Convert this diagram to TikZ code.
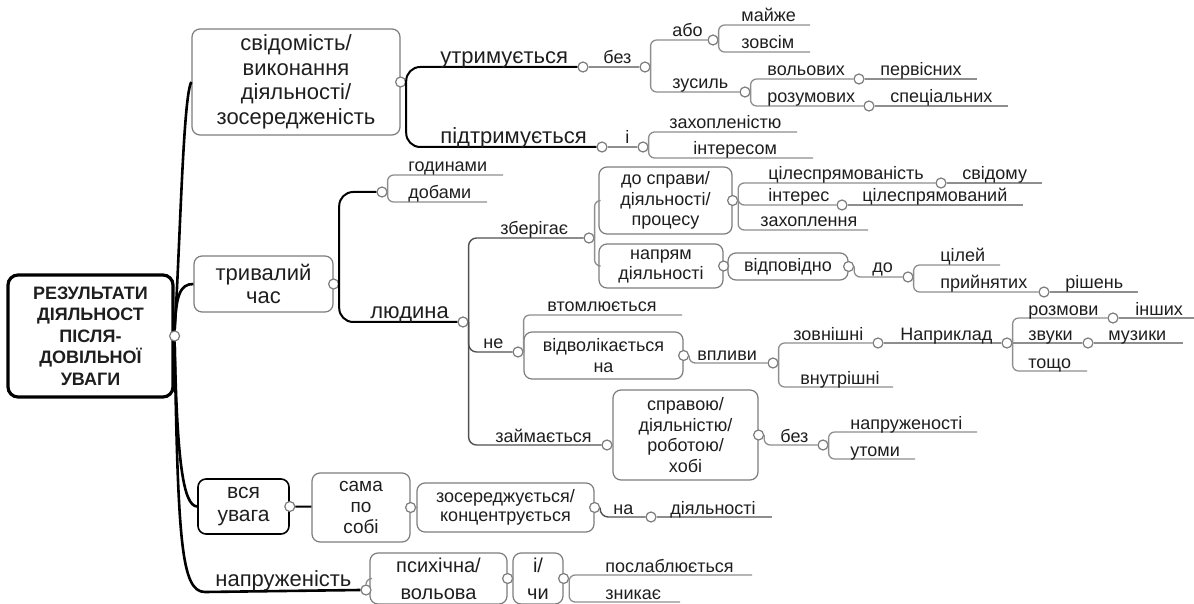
\documentclass[tikz,border=0pt]{standalone}
\usepackage{fontspec}
\setmainfont{Liberation Sans}
\definecolor{boxgrey}{HTML}{7C7C7C}
\definecolor{linegrey}{HTML}{8E8E8E}
\definecolor{darkgrey}{HTML}{505050}
\definecolor{txt}{HTML}{1E1E1E}

\begin{document}
\begin{tikzpicture}[x=0.5pt,y=-0.5pt,
	box/.style={draw=boxgrey,line width=0.6pt,rounded corners=4pt,align=center,inner sep=0pt,text=txt},
	bigbox/.style={box,font=\fontsize{11}{12.3}\selectfont},
	smallbox/.style={box,font=\fontsize{9}{10.4}\selectfont},
	rootbox/.style={box,draw=black,line width=1.6pt,rounded corners=5pt,font=\bfseries\fontsize{9}{10.75}\selectfont},
	dot/.style={circle,draw=boxgrey,fill=white,line width=0.6pt,inner sep=0pt,minimum size=5pt},
	lbl/.style={anchor=base west,inner sep=0pt,text=txt,font=\fontsize{9}{10}\selectfont},
	biglbl/.style={lbl,font=\fontsize{11}{12}\selectfont},
	mainline/.style={line width=1.3pt},
	branch/.style={line width=1pt,rounded corners=7pt},
	subline/.style={draw=darkgrey,line width=0.7pt,rounded corners=4pt},
	twig/.style={draw=linegrey,line width=0.65pt,rounded corners=3pt}]
	\useasboundingbox (0,0) rectangle (1194,604);
	% boxes
	\node[rootbox,minimum width=82.5pt,minimum height=61pt] (root) at (90.5,336) {РЕЗУЛЬТАТИ\\ДІЯЛЬНОСТ\\ПІСЛЯ-\\ДОВІЛЬНОЇ\\УВАГИ};
	\node[bigbox,minimum width=104pt,minimum height=53pt] (svid) at (296,82) {свідомість/\\виконання\\діяльності/\\зосередженість};
	\node[bigbox,font=\fontsize{11}{11.5}\selectfont,minimum width=69.5pt,minimum height=28pt] (tryv) at (263.5,284) {тривалий\\час};
	\node[box,draw=black,line width=0.8pt,font=\fontsize{10.5}{11.7}\selectfont,minimum width=45.5pt,minimum height=27.5pt] (vsya) at (243.5,506.5) {вся\\увага};
	\node[smallbox,font=\fontsize{9.5}{10.5}\selectfont,minimum width=49pt,minimum height=34.5pt] (sama) at (361,507.5) {сама\\по\\собі};
	\node[smallbox,font=\fontsize{9}{9.5}\selectfont,minimum width=88.5pt,minimum height=24.5pt] (zos) at (505.5,507.5) {зосереджується/\\концентрується};
	\node[box,font=\fontsize{10}{13.5}\selectfont,minimum width=68.5pt,minimum height=25.5pt] (psy) at (438.5,578.5) {психічна/\\вольова};
	\node[box,font=\fontsize{10}{13.5}\selectfont,minimum width=25pt,minimum height=25.5pt] (ichy) at (538,578.5) {і/\\чи};
	\node[smallbox,minimum width=66.5pt,minimum height=33.5pt] (sprav) at (665.5,200.5) {до справи/\\діяльності/\\процесу};
	\node[smallbox,font=\fontsize{9}{10}\selectfont,minimum width=62pt,minimum height=22pt] (napr) at (661,266) {напрям\\діяльності};
	\node[smallbox,minimum width=60pt,minimum height=13.5pt] (vidp) at (788,266.5) {відповідно};
	\node[smallbox,font=\fontsize{9}{10.8}\selectfont,minimum width=79.5pt,minimum height=23.5pt] (vidv) at (603.5,355.5) {відволікається\\на};
	\node[smallbox,minimum width=72.5pt,minimum height=45pt] (sprh) at (685.5,435) {справою/\\діяльністю/\\роботою/\\хобі};
	% dots
	\node[dot] (c_root) at (root.east) {};
	\foreach \b in {svid,tryv,vsya,sama,zos,psy,ichy,sprav,napr,vidp,vidv,sprh}
		\node[dot] (c_\b) at (\b.east) {};
	\foreach \n/\x/\y in {c_utr/583/67,c_bez/645/67,c_abo/713/40,c_zus/745/92,c_vol/859/79,c_roz/869/106,
		c_pidtr/602/147,c_i/643/147,c_god/382/192,c_lyud/463/322,c_zber/589/238,c_cil/941/183,c_int/842/205,
		c_do/908/277,c_pryin/1044/292,c_ne/518/352,c_vpl/773/363,c_zovn/878/343,c_napryk/1007/343,
		c_rozm/1113/318,c_zvuk/1088/343,c_zaym/607/445,c_bez2/823/445,c_na/651/517,c_napruzh/366/590}
		\node[dot] (\n) at (\x,\y) {};
	% ends of the underlines
	\foreach \n/\x/\y in {e_mayzhe/810/25,e_zovsim/810/52,e_perv/977/79,e_spets/1008/106,e_zakh/797/132,
		e_inter/813/158,e_god/503/175,e_dob/487/202,e_svid/1042/183,e_cilespr/1023/205,e_zakhopl/868/230,
		e_ciley/1000/265,e_rish/1138/292,e_vtom/682/315,e_vnutr/893/387,e_inshykh/1194/318,e_muz/1183/343,
		e_toshcho/1087/371,e_napruzh2/977/432,e_utomy/915/459,e_diyal/772/517,e_poslab/752/575,e_znyk/680/602}
		\coordinate (\n) at (\x,\y);
	% main branches
	\draw[mainline] (c_root.north) .. controls (180,250) and (183,95) .. (svid.west);
	\draw[mainline] (c_root.north) .. controls (176,295) and (180,284) .. (tryv.west);
	\draw[mainline] (c_root.south) .. controls (177,460) and (183,506) .. (vsya.west);
	\draw[mainline] (c_root.south) .. controls (178,540) and (181,592) .. (205,592) -- (c_napruzh.west);
	\foreach \a/\b in {c_svid/c_utr,c_svid/c_pidtr,c_tryv/c_god,c_tryv/c_lyud}
		\draw[branch] (\a.east) |- (\b);
	\draw[branch] (c_vsya.east) -- (sama);
	\foreach \b in {c_zber,c_ne,c_zaym}
		\draw[subline] (c_lyud.east) |- (\b);
	\draw[subline] (c_zos.east) |- (c_na);
	% twigs
	\foreach \a/\b in {c_bez/c_abo,c_bez/c_zus,c_abo/e_mayzhe,c_abo/e_zovsim,c_zus/c_vol,c_zus/c_roz,
		c_i/e_zakh,c_i/e_inter,c_god/e_god,c_god/e_dob,c_zber/sprav,c_zber/napr,c_sprav/c_cil,c_sprav/c_int,
		c_sprav/e_zakhopl,c_vidp/c_do,c_do/e_ciley,c_do/c_pryin,c_ne/e_vtom,c_vidv/c_vpl,c_vpl/c_zovn,
		c_vpl/e_vnutr,c_napryk/c_rozm,c_napryk/e_toshcho,c_sprh/c_bez2,c_bez2/e_napruzh2,c_bez2/e_utomy,
		c_ichy/e_poslab,c_ichy/e_znyk}
		\draw[twig] (\a.east) |- (\b);
	\foreach \a/\b in {c_utr/c_bez,c_vol/e_perv,c_roz/e_spets,c_pidtr/c_i,c_cil/e_svid,c_int/e_cilespr,
		c_pryin/e_rish,c_zovn/c_napryk,c_napryk/c_zvuk,c_rozm/e_inshykh,c_zvuk/e_muz,c_na/e_diyal,
		c_napr/vidp,c_ne/vidv,c_zaym/sprh,c_sama/zos,c_psy/ichy}
		\draw[twig] (\a.east) -- (\b);
	\draw[twig] (c_napruzh.north) |- (psy.west);
	% labels
	\foreach \n/\x/\y/\t in {t_utr/440/64/утримується,t_pidtr/440/144/підтримується,t_lyud/370/319/людина,
		t_napruzh/215/586/напруженість}
		\node[biglbl] (\n) at (\x,\y) {\t};
	\foreach \n/\x/\y/\t in {t_bez/603/64/без,t_abo/672/37/або,t_zus/672/89/зусиль,t_mayzhe/741/22/майже,
		t_zovsim/741/49/зовсім,t_vol/767/76/вольових,t_perv/880/76/первісних,t_rozum/767/103/розумових,
		t_spets/890/103/спеціальних,t_i/625/144/і,t_zakh/669/129/захопленістю,t_inter/693/155/інтересом,
		t_god/408/172/годинами,t_dob/408/199/добами,t_zber/500/235/зберігає,t_ne/483/349/не,
		t_zaym/495/442/займається,t_cil/768/180/цілеспрямованість,t_svid/962/180/свідому,
		t_int/768/202/інтерес,t_cilespr/862/202/цілеспрямований,t_zakhopl/760/227/захоплення,
		t_do/872/273/до,t_ciley/940/262/цілей,t_pryin/940/289/прийнятих,t_rish/1065/289/рішень,
		t_vtom/547/312/втомлюється,t_vpl/697/360/впливи,t_zovn/793/340/зовнішні,t_napryk/900/340/Наприклад,
		t_vnutr/800/384/внутрішні,t_rozm/1028/315/розмови,t_inshykh/1135/315/інших,t_zvuk/1028/340/звуки,
		t_muz/1108/340/музики,t_toshcho/1028/368/тощо,t_bez2/780/442/без,t_napruzh2/850/429/напруженості,
		t_utomy/850/456/утоми,t_na/613/514/на,t_diyal/670/514/діяльності,t_poslab/605/572/послаблюється,
		t_znyk/605/599/зникає}
		\node[lbl] (\n) at (\x,\y) {\t};
\end{tikzpicture}
\end{document}
